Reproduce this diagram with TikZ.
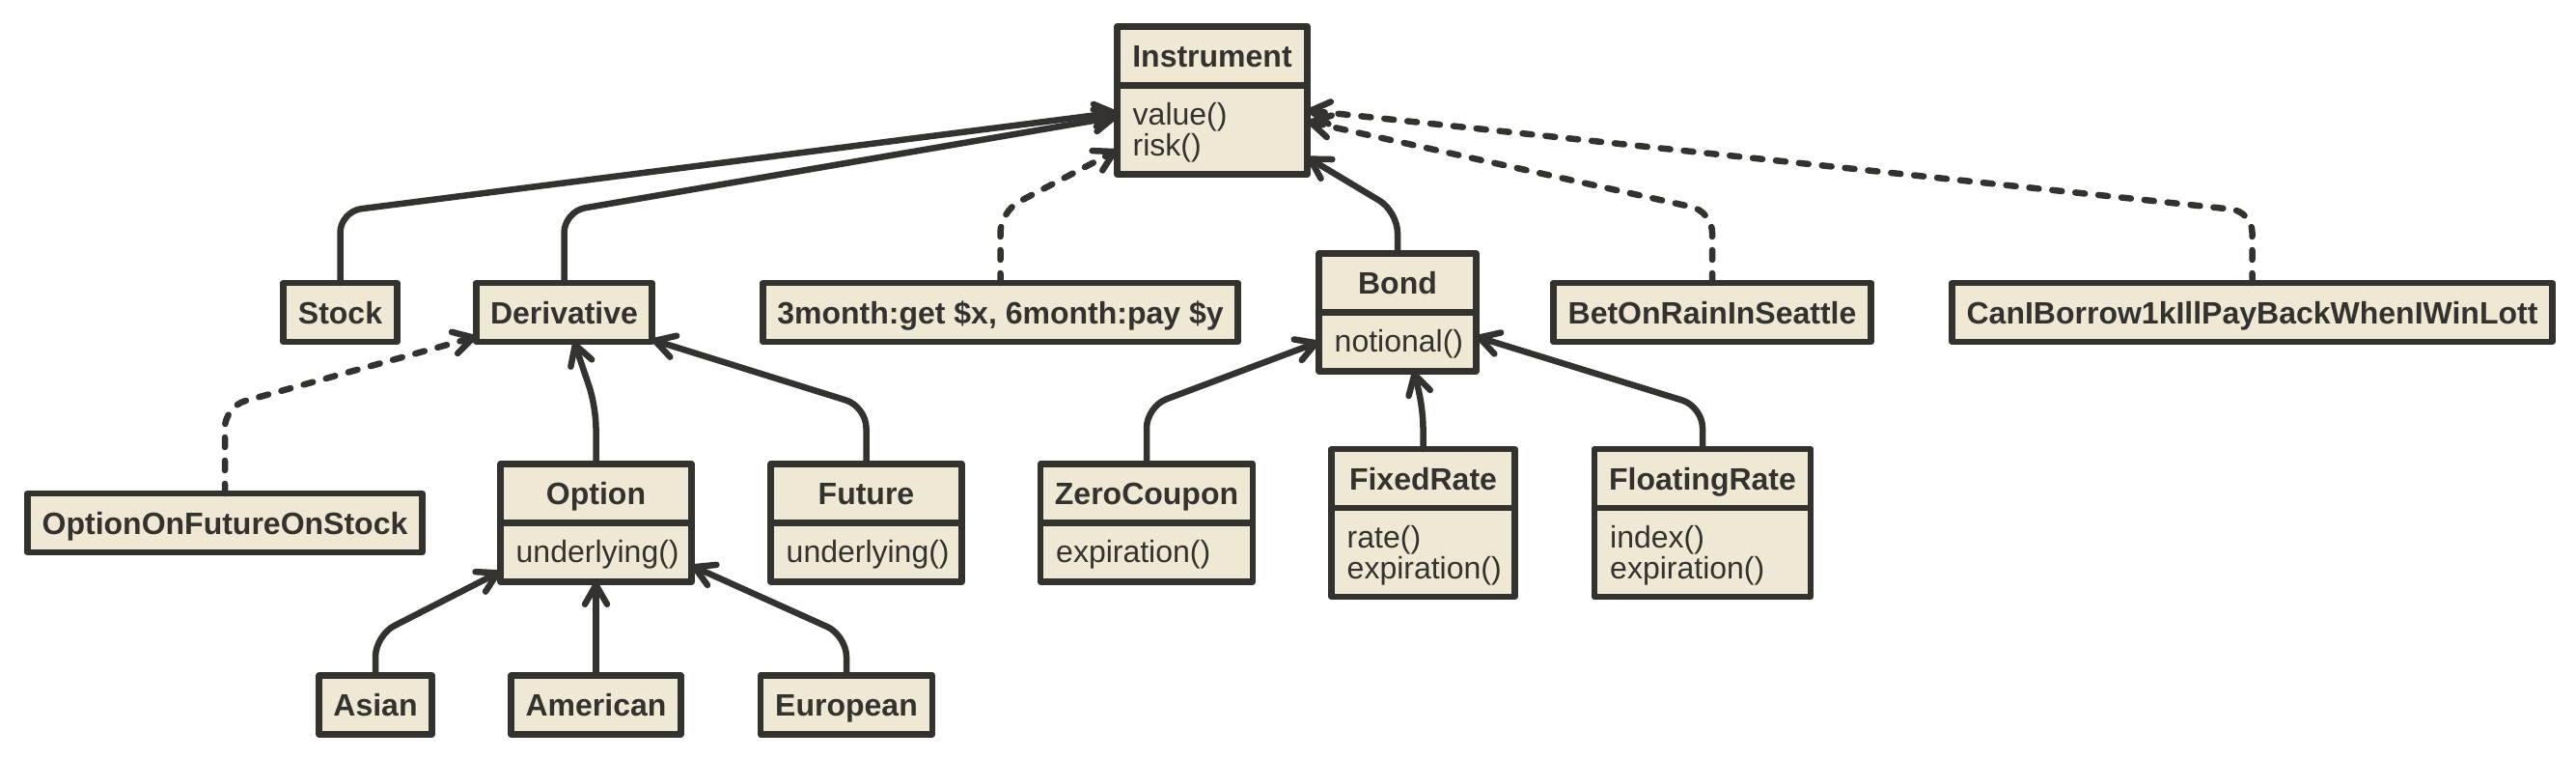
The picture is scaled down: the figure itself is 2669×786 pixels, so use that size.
\documentclass[tikz,border=0pt]{standalone}
\usepackage{fontspec}
\setmainfont{Liberation Sans}
\usetikzlibrary{arrows.meta,fit}
\definecolor{ink}{HTML}{33322E}
\definecolor{paper}{HTML}{EEE8D5}
\newcommand{\lnstrut}{\rule{0pt}{24pt}}
\begin{document}
\begin{tikzpicture}[x=1pt,y=-1pt,
  every node/.style={text=ink},
  compart/.style={draw=ink, fill=paper, line width=6.5pt, line join=round, inner sep=0pt, outer sep=0pt},
  hd/.style={compart, minimum height=61pt, text height=23pt, text depth=0pt, font={\fontsize{32}{32}\selectfont\bfseries}},
  bd/.style={compart},
  mt/.style={anchor=north west, align=left, inner sep=0pt, font={\fontsize{32}{32}\selectfont}},
  grp/.style={inner sep=0pt, outer sep=0pt},
  edge/.style={draw=ink, line width=6.5pt, rounded corners=22pt, line cap=round, line join=round, -{Straight Barb[length=20pt,width=23pt,round]}},
  dep/.style={edge, dash pattern=on 10pt off 14pt}
]
\fill[white] (0,0) rectangle (2669,786);
\useasboundingbox (0,0) rectangle (2669,786);

\coordinate (g1) at (0,219);
\coordinate (g2) at (0,421);
\coordinate (g3) at (0,658);

% rank 0
\node[hd, minimum width=197pt] (instH) at (1256,58) {Instrument};
\node[bd, minimum width=197pt, minimum height=92pt] (instB) at (1256,134.5) {};
\node[mt] (instT) at ([shift={(16pt,-17pt)}]instB.north west) {\lnstrut value()\\risk()};
\node[grp, fit=(instH)(instB)] (inst) {};

% rank 1
\node[hd, minimum width=118pt] (stock) at (352.5,323.5) {Stock};
\node[hd, minimum width=182pt] (deriv) at (584.5,323.5) {Derivative};
\node[hd, minimum width=492pt] (m3) at (1036.5,323.5) {3month:get \$x, 6month:pay \$y};
\node[hd, minimum width=163pt] (bondH) at (1448,293) {Bond};
\node[bd, minimum width=163pt, minimum height=61pt] (bondB) at (1448,354) {};
\node[mt] (bondT) at ([shift={(16pt,-17pt)}]bondB.north west) {\lnstrut notional()};
\node[grp, fit=(bondH)(bondB)] (bond) {};
\node[hd, minimum width=329pt] (bet) at (1774,323.5) {BetOnRainInSeattle};
\node[hd, minimum width=622pt] (cani) at (2333.5,323.5) {CanIBorrow1kIllPayBackWhenIWinLott};

% rank 2
\node[hd, minimum width=409pt] (oofos) at (233,541.5) {OptionOnFutureOnStock};
\node[hd, minimum width=198pt] (optH) at (617.5,511) {Option};
\node[bd, minimum width=198pt, minimum height=61pt] (optB) at (617.5,572) {};
\node[mt] (optT) at ([shift={(16pt,-17pt)}]optB.north west) {\lnstrut underlying()};
\node[grp, fit=(optH)(optB)] (opt) {};
\node[hd, minimum width=198pt] (futH) at (897.5,511) {Future};
\node[bd, minimum width=198pt, minimum height=61pt] (futB) at (897.5,572) {};
\node[mt] (futT) at ([shift={(16pt,-17pt)}]futB.north west) {\lnstrut underlying()};
\node[hd, minimum width=220pt] (zeroH) at (1188,511) {ZeroCoupon};
\node[bd, minimum width=220pt, minimum height=61pt] (zeroB) at (1188,572) {};
\node[mt] (zeroT) at ([shift={(16pt,-17pt)}]zeroB.north west) {\lnstrut expiration()};
\node[hd, minimum width=190pt] (fixH) at (1474.5,495.5) {FixedRate};
\node[bd, minimum width=190pt, minimum height=92pt] (fixB) at (1474.5,572) {};
\node[mt] (fixT) at ([shift={(16pt,-17pt)}]fixB.north west) {\lnstrut rate()\\expiration()};
\node[hd, minimum width=224pt] (floatH) at (1764,495.5) {FloatingRate};
\node[bd, minimum width=224pt, minimum height=92pt] (floatB) at (1764,572) {};
\node[mt] (floatT) at ([shift={(16pt,-17pt)}]floatB.north west) {\lnstrut index()\\expiration()};

% rank 3
\node[hd, minimum width=117pt] (asian) at (389,730) {Asian};
\node[hd, minimum width=176pt] (amer) at (617.5,730) {American};
\node[hd, minimum width=178pt] (euro) at (877,730) {European};

% connectors
\draw[edge] (stock.north) -- (stock.north |- g1) -- (inst);
\draw[edge] (deriv.north) -- (deriv.north |- g1) -- (inst);
\draw[dep] (m3.north) -- (m3.north |- g1) -- (inst);
\draw[edge] (bondH.north) -- (bondH.north |- g1) -- (inst);
\draw[dep] (bet.north) -- (bet.north |- g1) -- (inst);
\draw[dep] (cani.north) -- (cani.north |- g1) -- (inst);

\draw[dep] (oofos.north) -- (oofos.north |- g2) -- (deriv);
\draw[edge] (optH.north) -- (optH.north |- g2) -- (deriv);
\draw[edge] (futH.north) -- (futH.north |- g2) -- (deriv);
\draw[edge] (zeroH.north) -- (zeroH.north |- g2) -- (bond);
\draw[edge] (fixH.north) -- (fixH.north |- g2) -- (bond);
\draw[edge] (floatH.north) -- (floatH.north |- g2) -- (bond);

\draw[edge] (asian.north) -- (asian.north |- g3) -- (opt);
\draw[edge] (amer.north) -- (opt);
\draw[edge] (euro.north) -- (euro.north |- g3) -- (opt);
\end{tikzpicture}
\end{document}
